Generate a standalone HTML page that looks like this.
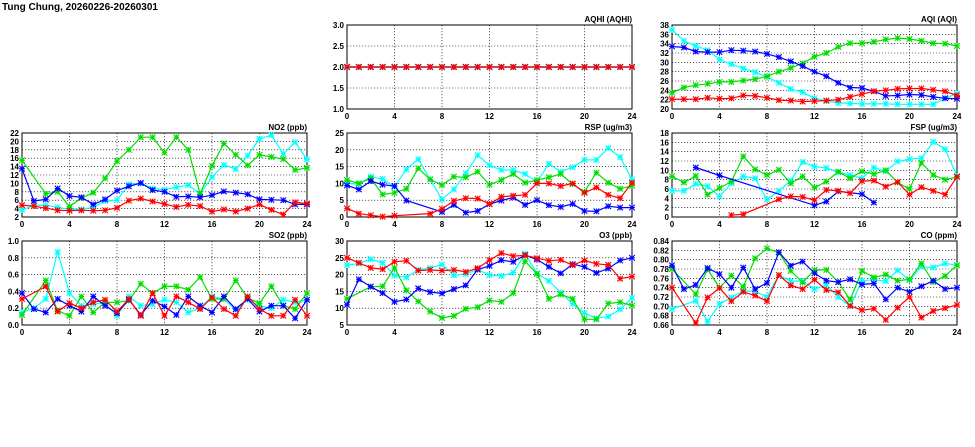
<!DOCTYPE html>
<html><head><meta charset="utf-8">
<style>
html,body{margin:0;padding:0;background:#fff;}
svg{display:block;font-family:"Liberation Sans",sans-serif;font-weight:bold;}
</style></head>
<body>
<svg id="chart" width="975" height="447" viewBox="0 0 975 447" xmlns="http://www.w3.org/2000/svg">
<rect width="975" height="447" fill="#fff"/>
<text x="2" y="10" font-size="10">Tung Chung, 20260226-20260301</text>
</svg>
<script>
const hours=[0,1,2,3,4,5,6,7,8,9,10,11,12,13,14,15,16,17,18,19,20,21,22,23,24];
const xTicks=[0,4,8,12,16,20,24];
const N=null;
// AQHI
const aqhiCyan=[2,2,2,2,2,2,2,2,2,2,2,2,2,2,2,2,2,2,2,2,2,2,2,2,2];
const aqhiGreen=[2,2,2,2,2,2,2,2,2,2,2,2,2,2,2,2,2,2,2,2,2,2,2,2,2];
const aqhiBlue=[2,2,2,2,2,2,2,2,2,2,2,2,2,2,2,2,2,2,2,2,2,2,2,2,2];
const aqhiRed=[2,2,2,2,2,2,2,2,2,2,2,2,2,2,2,2,2,2,2,2,2,2,2,2,2];
const aqhiTicks=["1.0","1.5","2.0","2.5","3.0"];
// AQI
const aqiGreen=[23.5,24.6,25.1,25.4,25.8,25.8,26.1,26.4,27,28,28.8,29.8,31.2,32,33.3,34.1,34.1,34.4,34.9,35.2,35,34.6,34.1,34,33.5];
const aqiBlue=[33.4,33.2,32.3,32.2,32.2,32.6,32.5,32.3,31.8,31.1,30.2,29.2,28,27,25.6,24.6,24.5,23.8,22.8,22.9,23.1,23,22.6,22.3,22.2];
const aqiCyan=[37,34.6,33.5,32.6,30.6,29.6,28.7,27.9,26.9,25.6,24.3,23.6,22.3,21.7,21.3,21.2,21.1,21.1,21.1,21,21,21,21,22.3,23.3];
const aqiRed=[22.1,22.1,22.1,22.4,22.2,22.3,22.9,22.8,22.4,21.9,21.8,21.6,21.7,21.8,22,22.6,23.2,23.8,24,24.3,24.4,24.4,24.1,23.8,22.9];
const aqiTicks=["20","22","24","26","28","30","32","34","36","38"];
// NO2
const no2Green=[15.5,N,7.5,8,4.5,6.5,7.8,11.2,15.3,18,21,21,17.3,21,18,7.5,14.2,19.5,16.8,14.3,16.8,16.3,15.8,13.2,13.7];
const no2Blue=[13.5,5.8,6.2,8.8,7,6.7,5,6.2,8.3,9.3,10.1,8.4,8,6.8,6.9,6.7,7.2,8.1,7.8,7.4,6.2,6.1,6,5,5];
const no2Cyan=[3.7,4.8,4.8,4.3,3.8,3.8,4.3,5.8,6,9.8,10,8.8,8.5,9.1,9.6,7.5,11.5,14.4,13.4,16.6,20.6,21.5,17,19.8,15.7];
const no2Red=[4.8,4.6,4.1,3.6,3.5,3.6,3.5,3.6,4.2,5.9,6.4,5.7,5.1,4.4,4.9,4.6,3.3,3.8,3.3,4,5,3.7,2.6,5.5,5.2];
const no2Ticks=["2","4","6","8","10","12","14","16","18","20","22"];
// RSP
const rspGreen=[11,10,11.5,6.7,7.2,8.4,14.5,11.2,9.5,12,11.8,13.5,9.6,11,12.8,10.2,11,11.8,12.8,9.8,7.5,13.2,10.2,8.4,9.3];
const rspCyan=[10,9.8,12,11.3,9,14.2,17.2,11.2,5.2,8.2,13,18.4,15.4,14,14,12.8,10.5,15.8,13.5,14.8,17,17,20.5,17.8,11.2];
const rspBlue=[9.4,8.2,10.7,9.6,9.2,4.9,N,N,1.5,3.6,1.3,1.8,3.8,4.9,5.8,3.6,5,3.5,3,3.9,1.8,1.7,3.2,2.8,2.8];
const rspRed=[2.6,1,0.5,0.1,0.4,N,N,1,2.4,4.8,5.6,5.5,3.9,6,6.3,6.6,10,10,9.2,10,7.2,8.8,6.6,5.6,10.2];
const rspTicks=["0","5","10","15","20","25"];
// FSP
const fspGreen=[8.7,7.4,8.8,4.8,6.2,7.6,13,10.2,9,10.1,7.2,8.7,6.3,7.6,9.7,8.3,9.8,9.2,10,7.4,6,11.6,9,8,8.6];
const fspCyan=[5.6,5.6,7.1,6.6,4.4,7.2,8.7,8.3,3.7,5.6,7.8,11.8,10.8,10.5,9.6,9,8.3,10.6,9.8,11.9,12.4,12.6,16.1,14.5,8.8];
const fspBlue=[N,N,10.6,N,8.9,N,N,N,N,N,N,N,2.5,3.3,5.5,N,4.9,3.1,N,N,N,N,N,N,N];
const fspRed=[N,N,N,N,N,0.4,0.6,N,N,3.8,4.4,4.3,3.6,5.8,5.6,5.1,7.7,7.8,6.5,7.5,4.8,6.4,5.6,4.8,8.6];
const fspTicks=["0","2","4","6","8","10","12","14","16","18"];
// SO2
const so2Green=[0.12,N,0.53,0.17,0.11,0.34,0.15,0.27,0.27,0.29,0.49,0.38,0.46,0.46,0.42,0.57,0.31,0.31,0.53,0.32,0.26,0.46,0.23,0.19,0.38];
const so2Cyan=[0.15,0.2,0.31,0.87,0.38,0.23,0.25,0.26,0.11,0.34,0.23,0.25,0.3,0.27,0.15,0.2,0.34,0.31,0.18,0.3,0.23,0.2,0.3,0.27,0.3];
const so2Blue=[0.38,0.19,0.15,0.31,0.23,0.16,0.34,0.23,0.14,0.3,0.12,0.29,0.22,0.12,0.34,0.23,0.15,0.34,0.19,0.31,0.16,0.23,0.23,0.08,0.3];
const so2Red=[0.31,N,0.46,0.16,0.26,0.2,0.27,0.3,0.16,0.31,0.11,0.38,0.11,0.34,0.27,0.19,0.33,0.19,0.11,0.34,0.19,0.11,0.11,0.3,0.11];
const so2Ticks=["0.0","0.2","0.4","0.6","0.8","1.0"];
// O3
const o3Red=[25,23.5,22,21.6,23.8,24.1,21.2,21.4,21.2,21.4,20.8,21.9,24.3,26.4,25.5,25.7,24.9,24.1,24.4,22.8,24.2,23.2,22.9,18.8,19.4];
const o3Cyan=[22.8,23.3,24.6,23.5,19.7,19.2,21.4,22,23,19.8,20.2,21.5,19.8,19.6,20.6,26.2,20.4,18.1,14.7,11.3,8.5,7,7.5,9.7,13];
const o3Blue=[11,18.6,16.4,14.5,11.9,12.6,15.9,14.8,14.4,15.7,16.8,21.5,22.6,24.3,23.8,25.8,24.5,22.3,20.4,23.1,22.3,20.5,21.8,24.2,25];
const o3Green=[12.8,N,16.4,16.5,22,15.3,12,9,7.1,7.7,9.8,10.3,12.3,11.9,14.5,24,20.2,12.8,14.1,12.8,6.7,6.7,11.4,11.8,10.8];
const o3Ticks=["5","10","15","20","25","30"];
// CO
const coGreen=[0.780,N,0.726,0.779,0.740,0.766,0.742,0.803,0.824,0.815,0.776,0.751,0.778,0.778,0.752,0.714,0.776,0.762,0.768,0.755,0.758,0.792,0.752,0.765,0.788];
const coBlue=[0.788,0.737,0.746,0.782,0.769,0.740,0.783,0.737,0.750,0.816,0.787,0.796,0.771,0.755,0.752,0.758,0.747,0.749,0.715,0.740,0.731,0.743,0.755,0.737,0.740];
const coCyan=[0.694,N,0.712,0.667,0.705,0.719,0.733,0.732,0.720,0.767,0.754,0.754,0.737,0.746,0.720,0.700,0.755,0.757,0.754,0.777,0.756,0.785,0.783,0.792,0.788];
const coRed=[0.740,N,0.664,0.719,0.739,0.711,0.731,0.723,0.711,0.767,0.745,0.737,0.757,0.735,0.730,0.701,0.692,0.695,0.671,0.697,0.720,0.676,0.690,0.696,0.703];
const coTicks=["0.66","0.68","0.70","0.72","0.74","0.76","0.78","0.80","0.82","0.84"];

const C={red:"#ff0000",green:"#00dd00",blue:"#0000ff",cyan:"#00ffff"};
const svg=document.getElementById('chart');
const NS="http://www.w3.org/2000/svg";
function mk(tag,attrs,parent){const e=document.createElementNS(NS,tag);for(const k in attrs)e.setAttribute(k,attrs[k]);(parent||svg).appendChild(e);return e;}

const panels=[
 {name:"aqhi",title:"AQHI (AQHI)",x0:347,y0:25,ticks:aqhiTicks,series:[["cyan",aqhiCyan],["green",aqhiGreen],["blue",aqhiBlue],["red",aqhiRed]]},
 {name:"aqi",title:"AQI (AQI)",x0:672,y0:25,ticks:aqiTicks,series:[["cyan",aqiCyan],["green",aqiGreen],["blue",aqiBlue],["red",aqiRed]]},
 {name:"no2",title:"NO2 (ppb)",x0:22,y0:133,ticks:no2Ticks,series:[["cyan",no2Cyan],["green",no2Green],["blue",no2Blue],["red",no2Red]]},
 {name:"rsp",title:"RSP (ug/m3)",x0:347,y0:133,ticks:rspTicks,series:[["cyan",rspCyan],["green",rspGreen],["blue",rspBlue],["red",rspRed]]},
 {name:"fsp",title:"FSP (ug/m3)",x0:672,y0:133,ticks:fspTicks,series:[["cyan",fspCyan],["green",fspGreen],["blue",fspBlue],["red",fspRed]]},
 {name:"so2",title:"SO2 (ppb)",x0:22,y0:241,ticks:so2Ticks,series:[["cyan",so2Cyan],["green",so2Green],["blue",so2Blue],["red",so2Red]]},
 {name:"o3",title:"O3 (ppb)",x0:347,y0:241,ticks:o3Ticks,series:[["cyan",o3Cyan],["green",o3Green],["blue",o3Blue],["red",o3Red]]},
 {name:"co",title:"CO (ppm)",x0:672,y0:241,ticks:coTicks,series:[["cyan",coCyan],["green",coGreen],["blue",coBlue],["red",coRed]]}
];
const W=285,H=84;
panels.forEach(p=>{
  const g=mk('g',{});
  
  
  const ymin=parseFloat(p.ticks[0]),ymax=parseFloat(p.ticks[p.ticks.length-1]);
  const xs=v=>p.x0+v/24*W;
  const ys=v=>p.y0+H-(v-ymin)/(ymax-ymin)*H;
  // grid
  xTicks.forEach(t=>{
    if(t>0&&t<24){const l=mk('line',{x1:xs(t),x2:xs(t),y1:p.y0,y2:p.y0+H,stroke:"#000","stroke-width":0.6,"stroke-dasharray":"1.2,1.8"},g);
      }
    const tx=mk('text',{x:xs(t),y:p.y0+H+10,"font-size":8,"text-anchor":"middle"},g);tx.textContent=t;
    
  });
  p.ticks.forEach(s=>{
    const v=parseFloat(s);
    if(v>ymin&&v<ymax){const l=mk('line',{x1:p.x0,x2:p.x0+W,y1:ys(v),y2:ys(v),stroke:"#000","stroke-width":0.6,"stroke-dasharray":"1.2,1.8"},g);
      }
    const tx=mk('text',{x:p.x0-3,y:ys(v)+3,"font-size":8,"text-anchor":"end"},g);tx.textContent=s;
    
  });
  const fr=mk('rect',{x:p.x0,y:p.y0,width:W,height:H,fill:"none",stroke:"#000","stroke-width":1},g);
  
  const tt=mk('text',{x:p.x0+W,y:p.y0-3,"font-size":8,"text-anchor":"end"},g);tt.textContent=p.title;
  
  p.series.forEach(([col,vals])=>{
    let d="";let first=true;
    vals.forEach((v,i)=>{if(v===null)return;d+=(first?"M":"L")+xs(hours[i]).toFixed(1)+","+ys(v).toFixed(1);first=false;});
    const pl=mk('path',{d:d,fill:"none",stroke:C[col],"stroke-width":1.2},g);
    
    
    vals.forEach((v,i)=>{
      if(v===null)return;
      const cx=xs(hours[i]),cy=ys(v),r=2.8;
      const m=mk('path',{d:`M${cx-r},${cy-r}L${cx+r},${cy+r}M${cx-r},${cy+r}L${cx+r},${cy-r}M${cx-r},${cy}L${cx+r},${cy}M${cx},${cy-r}L${cx},${cy+r}`,stroke:C[col],"stroke-width":1.1,fill:"none"},g);
      
      
    });
  });
});
</script>
</body></html>
